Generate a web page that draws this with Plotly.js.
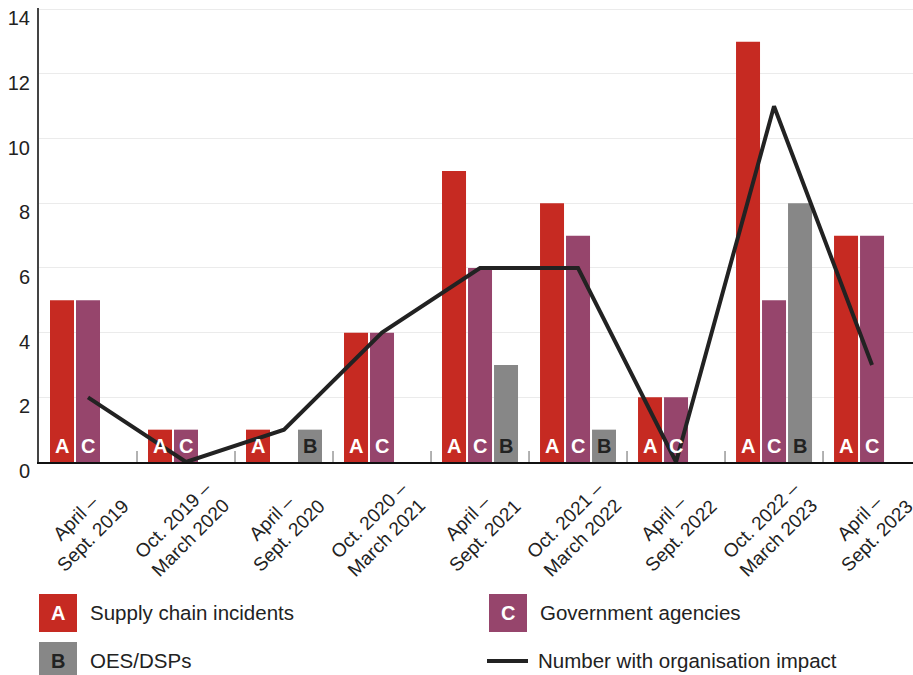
<!DOCTYPE html>
<html>
<head>
<meta charset="utf-8">
<script src="https://cdn.plot.ly/plotly-3.0.1.min.js"></script>
<style>
  html, body { margin: 0; padding: 0; background: #fff; }
  #chart { width: 913px; height: 675px; }
</style>
</head>
<body>
<div id="chart"></div>
<script>
// Half-year periods
const periods = [
  "April –<br>Sept. 2019",
  "Oct. 2019 –<br>March 2020",
  "April –<br>Sept. 2020",
  "Oct. 2020 –<br>March 2021",
  "April –<br>Sept. 2021",
  "Oct. 2021 –<br>March 2022",
  "April –<br>Sept. 2022",
  "Oct. 2022 –<br>March 2023",
  "April –<br>Sept. 2023"
];

// Incident counts per group
const supplyChain = [5, 1, 1, 4, 9, 8, 2, 13, 7];   // A
const government  = [5, 1, 0, 4, 6, 7, 2, 5, 7];    // C
const oesDsps     = [0, 0, 1, 0, 3, 1, 0, 8, 0];    // B
const orgImpact   = [2, 0, 1, 4, 6, 6, 0, 11, 3];

const yTicks = [0, 2, 4, 6, 8, 10, 12, 14];

const RED = "#C62A22", PURPLE = "#96456C", GREY = "#878787", INK = "#222222";
const FONT = "Arial, 'Liberation Sans', sans-serif";

const BARGAP = 0.204;
const slot = (1 - BARGAP) / 3;

const groups = [
  { name: "Supply chain incidents", letter: "A", values: supplyChain, color: RED,    letterColor: "#ffffff", offset: -slot },
  { name: "Government agencies",    letter: "C", values: government,  color: PURPLE, letterColor: "#ffffff", offset: 0 },
  { name: "OES/DSPs",               letter: "B", values: oesDsps,     color: GREY,   letterColor: INK,       offset: slot }
];

const idx = periods.map((_, i) => i);

const traces = groups.map(g => ({
  type: "bar",
  name: g.name,
  x: idx,
  y: g.values,
  marker: { color: g.color, line: { width: 0 } },
  hoverinfo: "skip"
}));

traces.push({
  type: "scatter",
  mode: "lines",
  name: "Number with organisation impact",
  x: idx,
  y: orgImpact,
  line: { color: INK, width: 4 },
  hoverinfo: "skip"
});

const W = 913, H = 675;
const M = { l: 39, r: 0, t: 8, b: 213 };
const pw = W - M.l - M.r, ph = H - M.t - M.b;
const toPX = x => (x - M.l) / pw;
const toPY = y => (H - M.b - y) / ph;

const annotations = [];

// Letters at the foot of each non-empty bar
groups.forEach(g => {
  g.values.forEach((v, i) => {
    if (v > 0) {
      annotations.push({
        xref: "x", yref: "y", x: i + g.offset, y: 0,
        yanchor: "middle", xanchor: "center", yshift: 16,
        text: "<b>" + g.letter + "</b>", showarrow: false,
        font: { family: FONT, size: 20, color: g.letterColor }
      });
    }
  });
});

// Period labels, rotated and centred under each group
periods.forEach((p, i) => {
  annotations.push({
    xref: "x", yref: "y", x: i, y: 0,
    xanchor: "center", yanchor: "top", xshift: -4, yshift: -13,
    textangle: -45, align: "center", showarrow: false,
    text: p,
    font: { family: FONT, size: 19, color: INK }
  });
});

// Custom legend: coloured squares with letters, a line swatch, and labels
const shapes = [];
const legendItems = [
  { kind: "box", color: RED,    letter: "A", letterColor: "#fff", label: "Supply chain incidents", x0: 39,  y0: 594 },
  { kind: "box", color: PURPLE, letter: "C", letterColor: "#fff", label: "Government agencies",    x0: 489, y0: 594 },
  { kind: "box", color: GREY,   letter: "B", letterColor: INK,    label: "OES/DSPs",               x0: 39,  y0: 642 },
  { kind: "line", color: INK,                                      label: "Number with organisation impact", x0: 487, y0: 642 }
];

legendItems.forEach(it => {
  if (it.kind === "box") {
    shapes.push({
      type: "rect", xref: "paper", yref: "paper",
      x0: toPX(it.x0), x1: toPX(it.x0 + 38),
      y0: toPY(it.y0 + 38), y1: toPY(it.y0),
      fillcolor: it.color, line: { width: 0 }, layer: "above"
    });
    annotations.push({
      xref: "paper", yref: "paper", x: toPX(it.x0 + 19), y: toPY(it.y0 + 19),
      xanchor: "center", yanchor: "middle", showarrow: false,
      text: "<b>" + it.letter + "</b>",
      font: { family: FONT, size: 20, color: it.letterColor }
    });
  } else {
    shapes.push({
      type: "line", xref: "paper", yref: "paper",
      x0: toPX(it.x0), x1: toPX(it.x0 + 41),
      y0: toPY(it.y0 + 19), y1: toPY(it.y0 + 19),
      line: { color: it.color, width: 4 }, layer: "above"
    });
  }
  annotations.push({
    xref: "paper", yref: "paper", x: toPX(it.x0 + 49), y: toPY(it.y0 + 18),
    xanchor: "left", yanchor: "middle", showarrow: false,
    text: it.label,
    font: { family: FONT, size: 20.5, color: INK }
  });
});

// Category boundary ticks rising from the baseline
idx.slice(1).forEach(i => {
  shapes.push({
    type: "line", xref: "x", yref: "paper",
    x0: i - 0.5, x1: i - 0.5, y0: 0, y1: 11 / ph,
    line: { color: "#666", width: 1 }
  });
});

const layout = {
  width: W, height: H,
  margin: M,
  paper_bgcolor: "#fff", plot_bgcolor: "#fff",
  barmode: "group",
  bargap: BARGAP,
  bargroupgap: 0.077,
  showlegend: false,
  font: { family: FONT, color: INK },
  xaxis: {
    type: "linear",
    range: [-0.5, 8.418],
    showticklabels: false,
    showgrid: false,
    zeroline: false,
    showline: true, linecolor: "#111", linewidth: 1.5,
    ticks: "", fixedrange: true
  },
  yaxis: {
    range: [0, 14.04],
    tickmode: "array",
    tickvals: yTicks,
    tickfont: { family: FONT, size: 20, color: INK },
    ticklabeloverflow: "allow",
    ticklabelshift: 9,
    showgrid: true, gridcolor: "#ebebeb", gridwidth: 1,
    zeroline: false,
    showline: true, linecolor: "#444", linewidth: 2,
    ticks: "", ticklabelstandoff: 3,
    fixedrange: true
  },
  shapes: shapes,
  annotations: annotations
};

Plotly.newPlot("chart", traces, layout, { staticPlot: true, displayModeBar: false });
</script>
</body>
</html>
